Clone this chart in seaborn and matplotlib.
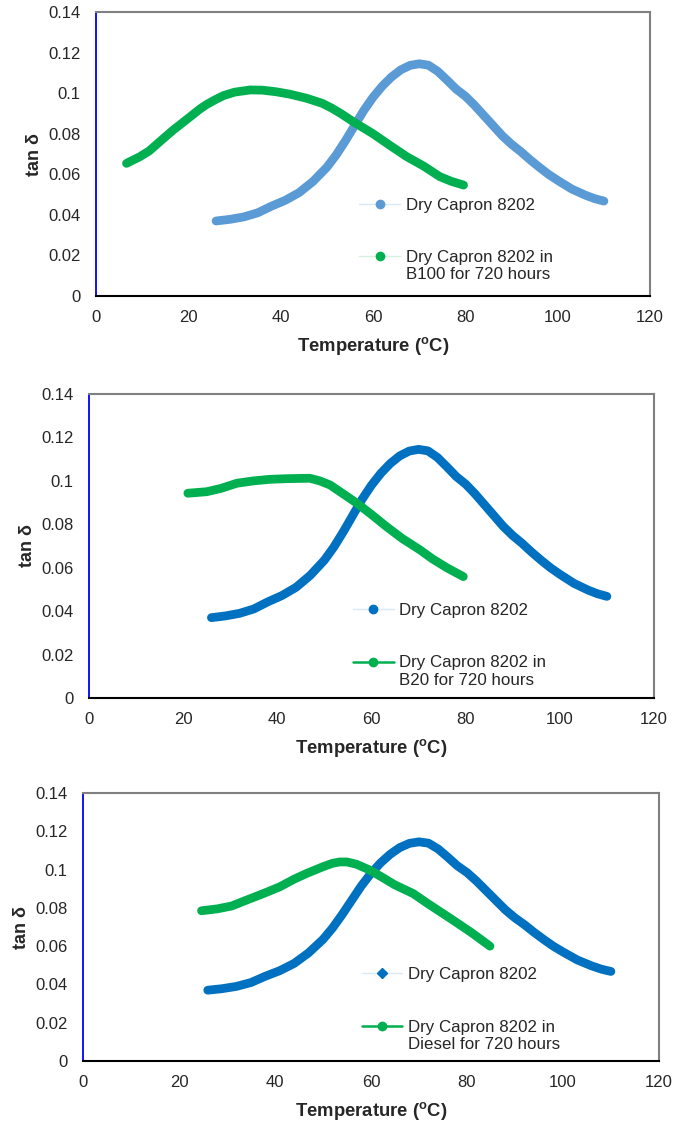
import numpy as np
import pandas as pd
import matplotlib
matplotlib.use("Agg")
import matplotlib.pyplot as plt
from matplotlib.lines import Line2D
import seaborn as sns

sns.set_style("white")
plt.rcParams['font.family'] = ['Liberation Sans', 'DejaVu Sans']
plt.rcParams['mathtext.fontset'] = 'custom'
plt.rcParams['mathtext.bf'] = 'Liberation Sans:bold'
plt.rcParams['mathtext.rm'] = 'Liberation Sans'

# Dry Capron 8202 (same in every panel)
dry_temp = [26, 29, 32, 35, 38, 41, 44, 47, 50, 52, 54, 56, 58, 60, 62, 64, 66, 68, 70, 72, 74, 76, 78, 80, 82, 84, 86, 88, 90, 92, 94, 96, 98, 100, 103, 106, 108, 110]
dry_tan = [0.037, 0.0378, 0.039, 0.041, 0.0443, 0.0472, 0.051, 0.0565, 0.0635, 0.0695, 0.0765, 0.084, 0.0915, 0.098, 0.1035, 0.108, 0.1115, 0.1137, 0.1145, 0.1138, 0.1108, 0.1065, 0.102, 0.0985, 0.094, 0.089, 0.084, 0.079, 0.0748, 0.0712, 0.0672, 0.0635, 0.060, 0.057, 0.0528, 0.0497, 0.048, 0.0468]

# Panel 1: in B100 for 720 hours
b100_temp = [6.6, 9.5, 11.5, 13.5, 16.7, 20.4, 22.5, 24, 26, 27.6, 30, 33.4, 36, 39, 42, 45.6, 49, 51, 53, 56, 60, 63.5, 67.3, 71, 74.5, 77, 79.6]
b100_tan = [0.0654, 0.0687, 0.0715, 0.0755, 0.0818, 0.0884, 0.0922, 0.0945, 0.097, 0.0988, 0.1005, 0.1016, 0.1015, 0.1007, 0.0995, 0.0975, 0.095, 0.0927, 0.090, 0.0855, 0.080, 0.0745, 0.0687, 0.064, 0.0588, 0.0565, 0.0547]

# Panel 2: in B20 for 720 hours
b20_temp = [21, 25, 28, 31.4, 35, 38.4, 42, 46.9, 49, 51.2, 54, 56.9, 60, 63.2, 66.5, 70.3, 73, 76, 79.5]
b20_tan = [0.0943, 0.095, 0.0965, 0.0989, 0.100, 0.1007, 0.101, 0.1012, 0.100, 0.0981, 0.094, 0.0897, 0.0845, 0.0789, 0.0735, 0.0682, 0.064, 0.060, 0.0559]

# Panel 3: in Diesel for 720 hours
diesel_temp = [24.7, 28, 31, 34, 37.6, 41, 44, 46.6, 50, 52, 53.5, 55, 57, 59.8, 62, 65, 68.8, 72, 77.1, 81, 84.8]
diesel_tan = [0.0785, 0.0795, 0.081, 0.084, 0.0875, 0.091, 0.095, 0.098, 0.1015, 0.1033, 0.104, 0.104, 0.1028, 0.0997, 0.0965, 0.092, 0.0875, 0.082, 0.0736, 0.067, 0.060]

x_ticks = [0, 20, 40, 60, 80, 100, 120]
y_ticks = [0, 0.02, 0.04, 0.06, 0.08, 0.1, 0.12, 0.14]
y_ticklabels = ["0", "0.02", "0.04", "0.06", "0.08", "0.1", "0.12", "0.14"]

dry_label = "Dry Capron 8202"
wet_label_first = "Dry Capron 8202 in"
wet_label_second = ["B100 for 720 hours", "B20 for 720 hours", "Diesel for 720 hours"]

panels = [
    dict(pos=[0.1404, 0.7371, 0.810, 0.2522], blue="#5b9bd5", blue_marker="o",
         wet=(b100_temp, b100_tan), wet_legend_line="#d6f0e0", leg=(0.475, 0.346)),
    dict(pos=[0.1301, 0.3801, 0.826, 0.2700], blue="#0070c0", blue_marker="o",
         wet=(b20_temp, b20_tan), wet_legend_line="#00b050", leg=(0.467, 0.312)),
    dict(pos=[0.1213, 0.0577, 0.842, 0.2380], blue="#0070c0", blue_marker="D",
         wet=(diesel_temp, diesel_tan), wet_legend_line="#00b050", leg=(0.484, 0.35)),
]

fig = plt.figure(figsize=(6.84, 11.26), dpi=100)
green = "#00b050"
for i, p in enumerate(panels):
    ax = fig.add_axes(p["pos"])
    dfd = pd.DataFrame({"t": dry_temp, "v": dry_tan})
    wt, wv = p["wet"]
    dfw = pd.DataFrame({"t": wt, "v": wv})
    sns.lineplot(data=dfd, x="t", y="v", ax=ax, color=p["blue"], linewidth=6.3,
                 solid_capstyle="round", solid_joinstyle="round", legend=False)
    sns.lineplot(data=dfw, x="t", y="v", ax=ax, color=green, linewidth=6.3,
                 solid_capstyle="round", solid_joinstyle="round", legend=False)
    ax.set_xlim(0, 120)
    ax.set_ylim(0, 0.14)
    ax.set_xticks(x_ticks)
    ax.set_yticks(y_ticks)
    ax.set_yticklabels(y_ticklabels)
    ax.tick_params(axis="both", labelsize=12, direction="out", length=4, width=1)
    ax.tick_params(axis="y", color="#9999ff", pad=7)
    ax.tick_params(axis="x", color="#333333", pad=6)
    ax.set_xlabel(r"Temperature ($\mathbf{^{o}}$C)", fontsize=13.3, fontweight="bold", labelpad=7)
    ax.set_ylabel("tan δ", fontsize=13, fontweight="bold", labelpad=4)
    for side in ["top", "right"]:
        ax.spines[side].set_color("#808080")
        ax.spines[side].set_linewidth(1.5)
    ax.spines["left"].set_color("#0000ff")
    ax.spines["left"].set_linewidth(1.3)
    ax.spines["bottom"].set_color("#000000")
    ax.spines["bottom"].set_linewidth(1.5)
    # legend handles
    h1 = Line2D([], [], color="#d8e8f6", linewidth=1, marker=p["blue_marker"],
                markersize=5 if p["blue_marker"] == "D" else 6,
                markerfacecolor=p["blue"], markeredgecolor=p["blue"])
    h2 = Line2D([], [], color=p["wet_legend_line"],
                linewidth=1.8 if p["wet_legend_line"] == green else 1,
                marker="o", markersize=6, markerfacecolor=green, markeredgecolor=green)
    leg = ax.legend([h1, h2], [dry_label, wet_label_first], loc="upper left",
                    bbox_to_anchor=p["leg"], frameon=False, fontsize=12.2, handlelength=2.4,
                    handletextpad=0.35, labelspacing=2.2, borderpad=0, borderaxespad=0)
    ax.annotate(wet_label_second[i], xy=(0, 0), xycoords=leg.get_texts()[1],
                xytext=(0, -1.5), textcoords="offset points", ha="left", va="top",
                fontsize=12.2, zorder=10)

fig.savefig("out.png", dpi=100)
